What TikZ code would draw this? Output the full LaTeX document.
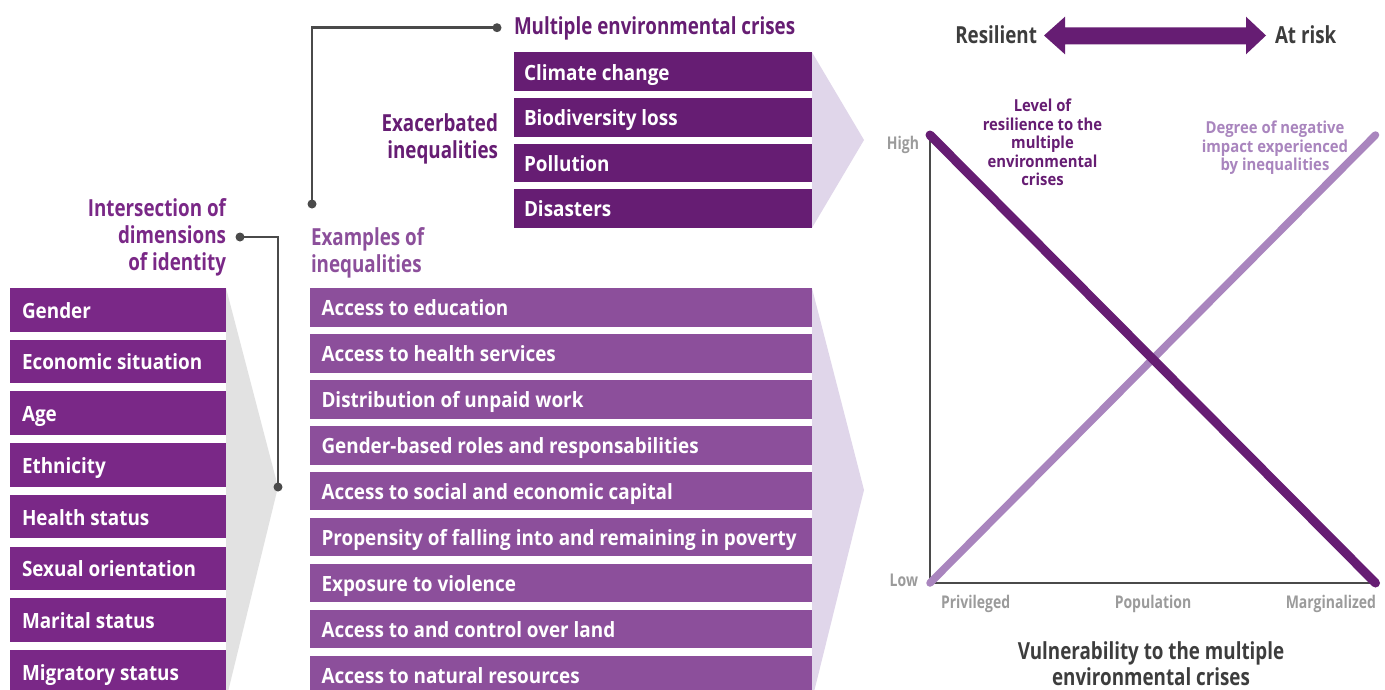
\documentclass[tikz,border=0pt]{standalone}
\usepackage{fontspec}
\newfontfamily\osc{Open Sans}[FakeStretch=0.8]
\newfontfamily\oscw{Open Sans}[FakeStretch=0.9]
\definecolor{idc}{HTML}{7A2887}
\definecolor{crc}{HTML}{661D73}
\definecolor{exc}{HTML}{8C4F9B}
\definecolor{lav}{HTML}{E0D6EA}
\definecolor{fgray}{HTML}{E2E2E2}
\definecolor{lline}{HTML}{A985BE}
\definecolor{dgray}{HTML}{3D3D3D}
\definecolor{agray}{HTML}{9B9B9B}
\definecolor{conn}{HTML}{4A4A4A}
\tikzset{
  every node/.style={inner sep=0pt, outer sep=0pt},
  boxlbl/.style={font=\oscw\bfseries\fontsize{21}{25}\selectfont, text=white, anchor=north west, text height=17pt, text depth=0pt},
  idbox/.style={boxlbl, fill=idc, minimum width=216pt, minimum height=43.5pt},
  exbox/.style={boxlbl, fill=exc, minimum width=502pt, minimum height=38.5pt, text height=16.5pt},
  crbox/.style={boxlbl, fill=crc, minimum width=298pt, minimum height=38.7pt},
  hd/.style={font=\osc\bfseries\fontsize{23.5}{27}\selectfont},
  glbl/.style={font=\osc\bfseries\fontsize{17.5}{20}\selectfont, text=agray},
  curve/.style={font=\oscw\bfseries\fontsize{16.5}{18.5}\selectfont, align=center},
  connline/.style={draw=conn, line width=2.5pt},
  dotc/.style={fill=conn},
}
\begin{document}
\begin{tikzpicture}[x=1pt,y=-1pt]
\clip (0,0) rectangle (1385,689);
\fill[white] (0,0) rectangle (1385,689);
% funnel tips
\coordinate (idtip) at (278,487);
\coordinate (extip) at (864,490);
\coordinate (crtip) at (864,140);
% identity boxes
\foreach \t [count=\i from 0] in {Gender,Economic situation,Age,Ethnicity,Health status,Sexual orientation,Marital status,Migratory status}
  \node[idbox] (id\i) at (10,{288+51.7*\i}) {\makebox[192pt][l]{\t}};
% examples boxes
\foreach \t [count=\i from 0] in {Access to education,Access to health services,Distribution of unpaid work,Gender-based roles and responsabilities,Access to social and economic capital,Propensity of falling into and remaining in poverty,Exposure to violence,Access to and control over land,Access to natural resources}
  \node[exbox] (ex\i) at (310,{288.3+45.9*\i}) {\makebox[479pt][l]{\t}};
% crises boxes
\foreach \t [count=\i from 0] in {Climate change,Biodiversity loss,Pollution,Disasters}
  \node[crbox] (cr\i) at (514,{52.3+45.6*\i}) {\makebox[278pt][l]{\t}};
% funnels
\fill[fgray] (id0.north east) -- (idtip) -- (226,700) -- cycle;
\fill[lav] (ex0.north east) -- (extip) -- (812,700) -- cycle;
\fill[lav] (cr0.north east) -- (crtip) -- (cr3.south east) -- cycle;
% headings
\node[hd, text=idc, align=right, anchor=north east] (idhd) at (226,199) {Intersection of\\dimensions\\of identity};
\node[hd, text=exc, align=left, anchor=north west] (exhd) at (311,228) {Examples of\\inequalities};
\node[hd, text=crc, align=right, anchor=north east] (exac) at (498,114) {Exacerbated\\inequalities};
\node[hd, text=crc, anchor=base west] (crhd) at (514,34.3) {Multiple environmental crises};
% connectors
\coordinate (idhdpt) at (240,237);
\coordinate (exhdpt) at (312,204);
\coordinate (crhdpt) at (497,27.7);
\draw[connline] (idtip) |- (idhdpt);
\draw[connline] (exhdpt) |- (crhdpt);
\foreach \p in {idtip,idhdpt,exhdpt,crhdpt} \fill[dotc] (\p) circle (4.5);
% double arrow
\node[hd, text=dgray, anchor=base east] (res) at (1037,43.3) {Resilient};
\node[hd, text=dgray, anchor=base west] (risk) at (1275,43.3) {At risk};
\fill[crc] (1044,35.5) -- (1065,16.7) -- (1065,27.3) -- (1246,27.3) -- (1246,16.7) -- (1266,35.5)
  -- (1246,54.3) -- (1246,44.3) -- (1065,44.3) -- (1065,54.3) -- cycle;
% graph
\coordinate (O) at (930,583);
\coordinate (Y) at (930,137);
\coordinate (X) at (1375.5,583);
\coordinate (TL) at (930,135);
\coordinate (TR) at (1375.5,135);
\draw[connline, line cap=rect] (Y) -- (O) -- (X);
\draw[lline, line width=7.5pt, line cap=round] (O) -- (TR);
\draw[crc, line width=9pt, line cap=round] (TL) -- (X);
\node[glbl, anchor=base east] (high) at (919,149.3) {High};
\node[glbl, anchor=base east] (low) at (918,586.7) {Low};
\node[glbl, anchor=base west] (priv) at (941,608.3) {Privileged};
\node[glbl, anchor=base] (pop) at (1153,608.3) {Population};
\node[glbl, anchor=base east] (marg) at (1376,608.3) {Marginalized};
\node[curve, text=crc, anchor=north] (lvl) at (1042.5,99) {Level of\\resilience to the\\multiple\\environmental\\crises};
\node[curve, text=lline, anchor=north] (deg) at (1275,121) {Degree of negative\\impact experienced\\by inequalities};
\node[hd, font=\osc\bfseries\fontsize{23.5}{26}\selectfont, text=dgray, align=center, anchor=north] (vul) at (1151,642) {Vulnerability to the multiple\\environmental crises};
\end{tikzpicture}
\end{document}
